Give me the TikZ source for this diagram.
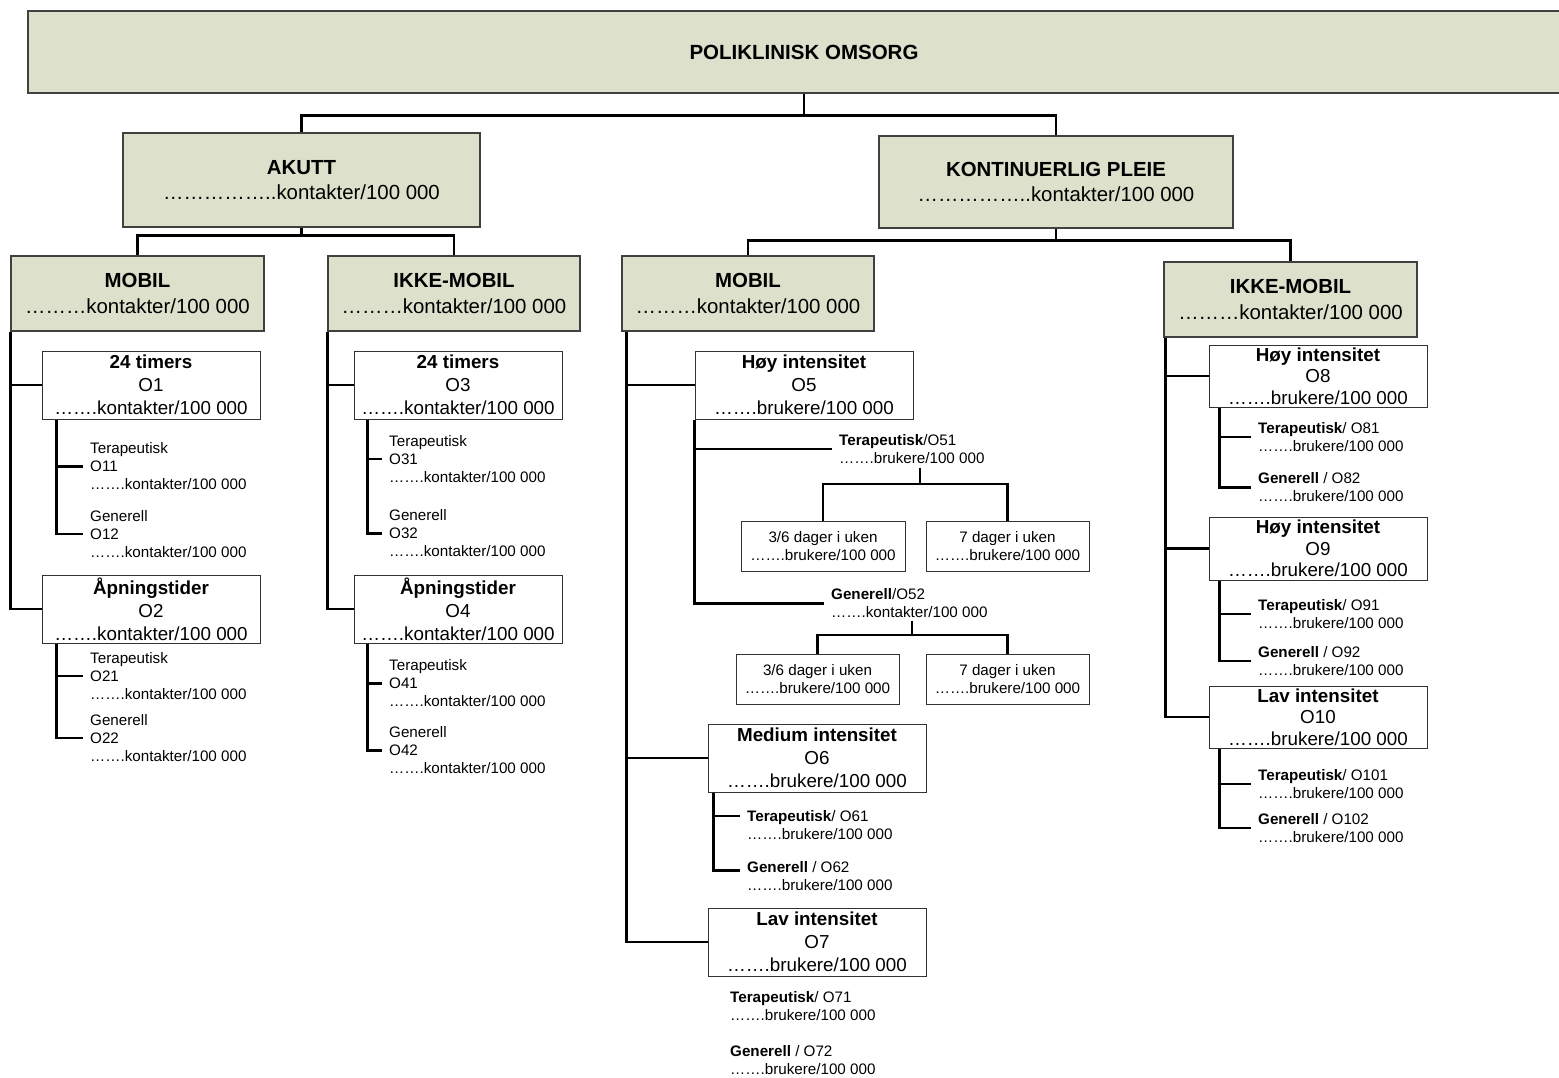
\documentclass[tikz,border=0pt]{standalone}
\usepackage{fontspec}
\setmainfont{Liberation Sans}
\usepackage{tikz}
\usetikzlibrary{positioning,shadows}
\definecolor{boxgreen}{RGB}{221,224,203}
\newcommand{\bigfont}{\fontsize{20.4}{25.5}\selectfont}
\newcommand{\boxfont}{\fontsize{18.8}{23}\selectfont}
\newcommand{\tightfont}{\fontsize{18.8}{21.5}\selectfont}
\newcommand{\smallfont}{\fontsize{15.2}{18}\selectfont}

\begin{document}
\begin{tikzpicture}[x=1pt, y=-1pt,
		greenbox/.style={draw=black!75, line width=1.3pt, fill=boxgreen, align=center, inner sep=0pt, font=\bigfont,
			drop shadow={shadow xshift=1.3pt, shadow yshift=-1.3pt, fill=black!40, opacity=1}},
		whitebox/.style={draw=black!80, line width=1pt, fill=white, align=center, inner sep=0pt, minimum width=218pt, minimum height=68pt, font=\boxfont},
		daybox/.style={draw=black!80, line width=1pt, fill=white, align=center, inner sep=0pt, minimum height=50pt, font=\smallfont},
		sub/.style={anchor=west, align=left, inner xsep=7pt, inner ysep=0pt, font=\smallfont},
		link/.style={line width=2.3pt, black}]
			\useasboundingbox (0,0) rectangle (1559,1078);

			\node[greenbox, minimum width=1552pt, minimum height=82pt, font=\fontsize{20.5}{25}\selectfont\bfseries] (omsorg) at (804,52) {POLIKLINISK OMSORG};

			\node[greenbox, minimum width=357pt, minimum height=94pt] (akutt) at (301.5,180) {\textbf{AKUTT}\\……………..kontakter/100 000};
			\node[greenbox, minimum width=354pt, minimum height=92pt] (kont) at (1056,182) {\textbf{KONTINUERLIG PLEIE}\\……………..kontakter/100 000};

			\node[greenbox, minimum width=253pt, minimum height=75pt] (mobA) at (137.5,293.5) {\textbf{MOBIL}\\………kontakter/100 000};
			\node[greenbox, minimum width=252pt, minimum height=75pt] (ikkeA) at (454,293.5) {\textbf{IKKE-MOBIL}\\………kontakter/100 000};
			\node[greenbox, minimum width=252pt, minimum height=75pt] (mobK) at (748,293.5) {\textbf{MOBIL}\\………kontakter/100 000};
			\node[greenbox, minimum width=253pt, minimum height=75pt] (ikkeK) at (1290.5,299.5) {\textbf{IKKE-MOBIL}\\………kontakter/100 000};

			\draw[link] (omsorg.south) -- ++(0,22) coordinate (j0) -| (akutt.north);
			\draw[link] (j0) -| (kont.north);
			\draw[link] (akutt.south) -- ++(0,8) coordinate (j1) -| (mobA.north);
			\draw[link] (j1) -| (ikkeA.north);
			\draw[link] (kont.south) -- ++(0,12) coordinate (j2) -| (mobK.north);
			\draw[link] (j2) -| (ikkeK.north);

			\node[whitebox] (t24a) at (151,385) {\textbf{24 timers}\\O1\\…….kontakter/100 000};
			\node[whitebox] (apnA) at (151,609) {\textbf{Åpningstider}\\O2\\…….kontakter/100 000};
			\node[sub] (ter11) at (83,466.5) {Terapeutisk\\O11\\…….kontakter/100 000};
			\node[sub] (gen12) at (83,534) {Generell\\O12\\…….kontakter/100 000};
			\node[sub] (ter21) at (83,676) {Terapeutisk\\O21\\…….kontakter/100 000};
			\node[sub] (gen22) at (83,738) {Generell\\O22\\…….kontakter/100 000};
			\draw[link] (mobA.south west) |- (t24a.west);
			\draw[link] (mobA.south west) |- (apnA.west);
			\draw[link] ([xshift=15pt]t24a.south west) |- (ter11.west);
			\draw[link] ([xshift=15pt]t24a.south west) |- (gen12.west);
			\draw[link] ([xshift=15pt]apnA.south west) |- (ter21.west);
			\draw[link] ([xshift=15pt]apnA.south west) |- (gen22.west);

			\node[whitebox, minimum width=208pt] (t24b) at (458,385) {\textbf{24 timers}\\O3\\…….kontakter/100 000};
			\node[whitebox, minimum width=208pt] (apnB) at (458,609) {\textbf{Åpningstider}\\O4\\…….kontakter/100 000};
			\node[sub] (ter31) at (382,459) {Terapeutisk\\O31\\…….kontakter/100 000};
			\node[sub] (gen32) at (382,533.5) {Generell\\O32\\…….kontakter/100 000};
			\node[sub] (ter41) at (382,683.5) {Terapeutisk\\O41\\…….kontakter/100 000};
			\node[sub] (gen42) at (382,750.5) {Generell\\O42\\…….kontakter/100 000};
			\draw[link] (ikkeA.south west) |- (t24b.west);
			\draw[link] (ikkeA.south west) |- (apnB.west);
			\draw[link] ([xshift=14pt]t24b.south west) |- (ter31.west);
			\draw[link] ([xshift=14pt]t24b.south west) |- (gen32.west);
			\draw[link] ([xshift=14pt]apnB.south west) |- (ter41.west);
			\draw[link] ([xshift=14pt]apnB.south west) |- (gen42.west);

			\node[whitebox] (hoy5) at (804,385) {\textbf{Høy intensitet}\\O5\\…….brukere/100 000};
			\node[sub] (ter51) at (832,449) {\textbf{Terapeutisk}/O51\\…….brukere/100 000};
			\node[sub] (gen52) at (824,603.5) {\textbf{Generell}/O52\\…….kontakter/100 000};
			\node[daybox, minimum width=164pt] (d36a) at (823,546) {3/6 dager i uken\\…….brukere/100 000};
			\node[daybox, minimum width=163pt] (d7a) at (1007.5,546) {7 dager i uken\\…….brukere/100 000};
			\node[daybox, minimum width=163pt] (d36b) at (817.5,679) {3/6 dager i uken\\…….brukere/100 000};
			\node[daybox, minimum width=163pt] (d7b) at (1007.5,679) {7 dager i uken\\…….brukere/100 000};
			\node[whitebox] (med6) at (817,758) {\textbf{Medium intensitet}\\O6\\…….brukere/100 000};
			\node[sub] (ter61) at (740,825) {\textbf{Terapeutisk}/ O61\\…….brukere/100 000};
			\node[sub] (gen62) at (740,876.5) {\textbf{Generell} / O62\\…….brukere/100 000};
			\node[whitebox] (lav7) at (817,942) {\textbf{Lav intensitet}\\O7\\…….brukere/100 000};
			\node[sub] (ter71) at (723,1006.5) {\textbf{Terapeutisk}/ O71\\…….brukere/100 000};
			\node[sub] (gen72) at (723,1060) {\textbf{Generell} / O72\\…….brukere/100 000};
			\draw[link] ([xshift=5pt]mobK.south west) |- (hoy5.west);
			\draw[link] ([xshift=5pt]mobK.south west) |- (med6.west);
			\draw[link] ([xshift=5pt]mobK.south west) |- (lav7.west);
			\draw[link] (hoy5.south west) |- (ter51.west);
			\draw[link] (hoy5.south west) |- (gen52.west);
			\draw[link] ([xshift=8pt,yshift=-4pt]ter51.south) -- ++(0,16) coordinate (j51);
			\draw[link] (d36a.north) |- (j51) -| (d7a.north);
			\draw[link] ([xshift=2.5pt,yshift=-3pt]gen52.south) -- ++(0,14) coordinate (j52);
			\draw[link] (d36b.north) |- (j52) -| (d7b.north);
			\draw[link] ([xshift=6pt]med6.south west) |- ([yshift=9pt]ter61.west);
			\draw[link] ([xshift=6pt]med6.south west) |- ([yshift=6pt]gen62.west);

			\node[whitebox, minimum height=62pt, font=\tightfont] (hoy8) at (1318,376) {\textbf{Høy intensitet}\\O8\\…….brukere/100 000};
			\node[whitebox, minimum height=63pt, font=\tightfont] (hoy9) at (1318,548.5) {\textbf{Høy intensitet}\\O9\\…….brukere/100 000};
			\node[whitebox, minimum height=62pt, font=\tightfont] (lav10) at (1318,717) {\textbf{Lav intensitet}\\O10\\…….brukere/100 000};
			\node[sub] (ter81) at (1251,437) {\textbf{Terapeutisk}/ O81\\…….brukere/100 000};
			\node[sub] (gen82) at (1251,487.5) {\textbf{Generell} / O82\\…….brukere/100 000};
			\node[sub] (ter91) at (1251,614) {\textbf{Terapeutisk}/ O91\\…….brukere/100 000};
			\node[sub] (gen92) at (1251,661) {\textbf{Generell} / O92\\…….brukere/100 000};
			\node[sub] (ter101) at (1251,784) {\textbf{Terapeutisk}/ O101\\…….brukere/100 000};
			\node[sub] (gen102) at (1251,828) {\textbf{Generell} / O102\\…….brukere/100 000};
			\draw[link] ([xshift=2pt]ikkeK.south west) |- (hoy8.west);
			\draw[link] ([xshift=2pt]ikkeK.south west) |- (hoy9.west);
			\draw[link] ([xshift=2pt]ikkeK.south west) |- (lav10.west);
			\draw[link] ([xshift=11pt]hoy8.south west) |- (ter81.west);
			\draw[link] ([xshift=11pt]hoy8.south west) |- (gen82.west);
			\draw[link] ([xshift=11pt]hoy9.south west) |- (ter91.west);
			\draw[link] ([xshift=11pt]hoy9.south west) |- (gen92.west);
			\draw[link] ([xshift=11pt]lav10.south west) |- (ter101.west);
			\draw[link] ([xshift=11pt]lav10.south west) |- (gen102.west);
		\end{tikzpicture}
\end{document}
